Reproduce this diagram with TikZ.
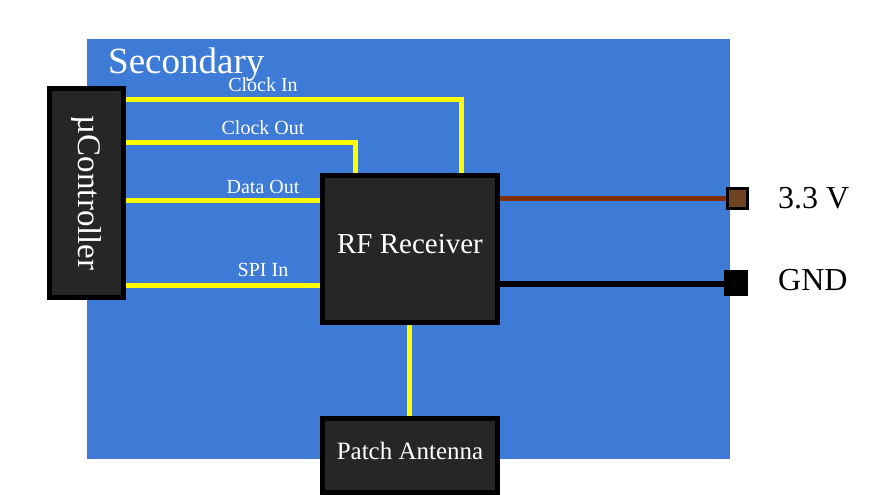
\documentclass[tikz,border=0pt]{standalone}
\usepackage{fontspec}
\setmainfont{Liberation Serif}
\usepackage{xcolor}
\definecolor{board}{HTML}{3E7BD7}
\definecolor{chip}{HTML}{262626}
\definecolor{sig}{HTML}{FFFF00}
\definecolor{vcc}{HTML}{7F3008}
\definecolor{vccpad}{HTML}{6F4322}
\usetikzlibrary{positioning}

\begin{document}
\begin{tikzpicture}[x=1pt,y=-1pt,
  blk/.style={draw=black,fill=chip,line width=5pt,text=white,inner sep=0pt},
  lab/.style={text=white,anchor=base,font=\fontsize{20}{24}\selectfont},
  wire/.style={draw=sig,line width=5pt},
  pad/.style={draw=black,line width=3pt,minimum size=20pt,inner sep=0pt},
  side/.style={anchor=west,inner sep=0pt,font=\fontsize{32}{36}\selectfont}]
\useasboundingbox (0,0) rectangle (884,495);
\fill[board] (87,39) rectangle (730,459);
\node[anchor=base west,inner sep=0pt,text=white,font=\fontsize{37}{40}\selectfont] (sec) at (108,74) {Secondary};
\node[blk,rotate=-90,minimum width=208.5pt,minimum height=74pt,font=\fontsize{33}{36}\selectfont] (uc) at (86.5,193.25) {µController};
\node[blk,minimum width=175pt,minimum height=147.5pt,text depth=9pt,font=\fontsize{29}{32}\selectfont] (rf) at (410,248.75) {RF Receiver};
\node[blk,minimum width=175pt,minimum height=74pt,text depth=9pt,font=\fontsize{25}{28}\selectfont] (ant) at (410,455.5) {Patch Antenna};
\node[pad,fill=vccpad] (v33) at (737,198.5) {};
\node[pad,fill=black,minimum width=21pt,minimum height=23pt] (gnd) at (736,282.5) {};
\node[side] (v33l) at (778,198.5) {3.3 V};
\node[side] (gndl) at (778,280) {GND};
\coordinate (ci) at (461,99.5);
\coordinate (co) at (355.7,142);
\coordinate (do) at (0,200);
\coordinate (si) at (0,285.5);
\coordinate (aw) at (409.7,0);
\draw[wire] (uc.north |- ci) -| (rf.north -| ci);
\draw[wire] (uc.north |- co) -| (rf.north -| co);
\draw[wire] (uc.north |- do) -- (rf.west |- do);
\draw[wire] (uc.north |- si) -- (rf.west |- si);
\draw[wire] (rf.south -| aw) -- (ant.north -| aw);
\draw[wire,draw=vcc] (rf.east |- v33) -- (v33.west);
\draw[wire,draw=black,line width=5.5pt] (rf.east |- 0,284) -- (gnd.west |- 0,284);
\node[lab] (cil) at (263,92) {Clock In};
\node[lab] (col) at (263,134.5) {Clock Out};
\node[lab] (dol) at (263,193.5) {Data Out};
\node[lab] (sil) at (263,276) {SPI In};
\end{tikzpicture}
\end{document}
